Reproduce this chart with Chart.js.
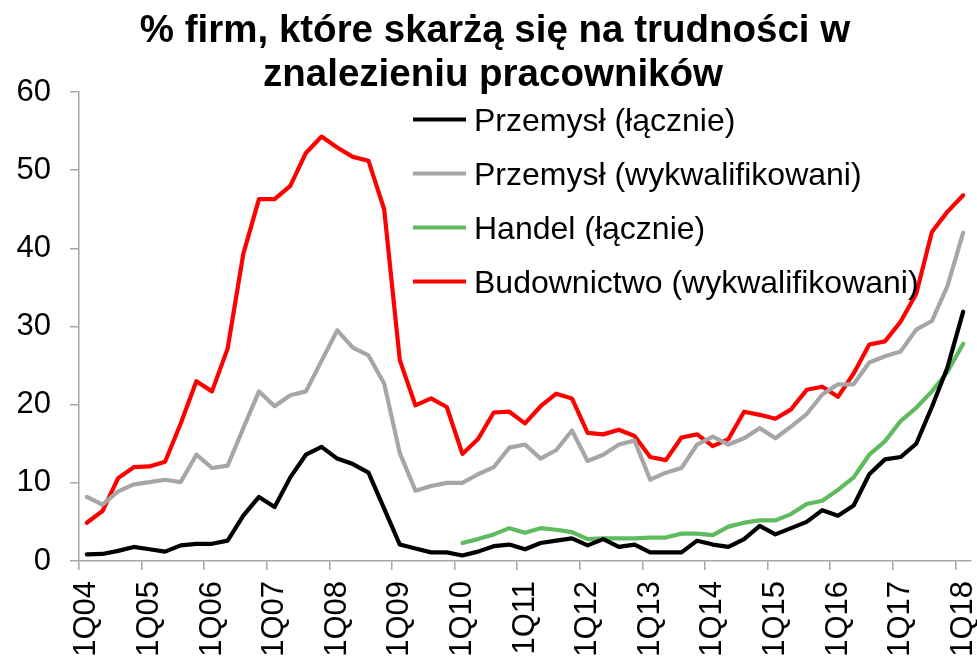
<!DOCTYPE html>
<html>
<head>
<meta charset="utf-8">
<script src="https://cdn.jsdelivr.net/npm/chart.js@4"></script>
<style>
  body { margin: 0; background: #fff; }
  #wrap { width: 977px; height: 656px; }
</style>
</head>
<body>
<div id="wrap"><canvas id="myChart" width="977" height="656"></canvas></div>
<script>
let quarters = [
  "1Q04", "2Q04", "3Q04", "4Q04", "1Q05", "2Q05", "3Q05", "4Q05",
  "1Q06", "2Q06", "3Q06", "4Q06", "1Q07", "2Q07", "3Q07", "4Q07",
  "1Q08", "2Q08", "3Q08", "4Q08", "1Q09", "2Q09", "3Q09", "4Q09",
  "1Q10", "2Q10", "3Q10", "4Q10", "1Q11", "2Q11", "3Q11", "4Q11",
  "1Q12", "2Q12", "3Q12", "4Q12", "1Q13", "2Q13", "3Q13", "4Q13",
  "1Q14", "2Q14", "3Q14", "4Q14", "1Q15", "2Q15", "3Q15", "4Q15",
  "1Q16", "2Q16", "3Q16", "4Q16", "1Q17", "2Q17", "3Q17", "4Q17",
  "1Q18"
];

let przemysl = [
  0.85, 0.9, 1.3, 1.8, 1.5, 1.2, 2.0, 2.2, 2.2, 2.6, 5.8, 8.2,
  6.9, 10.7, 13.6, 14.6, 13.1, 12.4, 11.3, 6.7, 2.1, 1.6, 1.1, 1.1,
  0.7, 1.2, 1.9, 2.1, 1.5, 2.3, 2.6, 2.9, 2.0, 2.8, 1.8, 2.1,
  1.1, 1.1, 1.1, 2.6, 2.1, 1.8, 2.8, 4.5, 3.4, 4.2, 5.0, 6.5,
  5.8, 7.1, 11.1, 13.0, 13.3, 15.0, 19.7, 24.8, 31.9
];

let przemyslWykw = [
  8.2, 7.2, 8.9, 9.8, 10.1, 10.4, 10.1, 13.6, 11.9, 12.2, 17.0, 21.7,
  19.8, 21.2, 21.7, 25.6, 29.5, 27.3, 26.3, 22.7, 13.8, 9.0, 9.6, 10.0,
  10.0, 11.1, 12.0, 14.5, 14.9, 13.1, 14.2, 16.7, 12.8, 13.6, 14.9, 15.4,
  10.4, 11.3, 11.9, 14.9, 15.9, 14.9, 15.7, 17.0, 15.7, 17.2, 18.8, 21.3,
  22.6, 22.6, 25.4, 26.2, 26.8, 29.6, 30.7, 35.2, 42.0
];

let handel = [
  null, null, null, null, null, null, null, null, null, null, null, null,
  null, null, null, null, null, null, null, null, null, null, null, null,
  2.3, 2.8, 3.4, 4.2, 3.6, 4.2, 4.0, 3.7, 2.8, 2.9, 2.9, 2.9,
  3.0, 3.0, 3.5, 3.5, 3.3, 4.4, 4.9, 5.2, 5.2, 6.0, 7.3, 7.7,
  9.1, 10.7, 13.6, 15.3, 17.9, 19.6, 21.7, 24.2, 27.8
];

let budownictwo = [
  4.9, 6.4, 10.6, 12.0, 12.1, 12.7, 17.6, 23.0, 21.7, 27.2, 39.3, 46.3,
  46.3, 48.0, 52.2, 54.3, 52.9, 51.7, 51.2, 45.0, 25.7, 19.9, 20.8, 19.7,
  13.7, 15.6, 19.0, 19.1, 17.6, 19.8, 21.4, 20.8, 16.4, 16.2, 16.8, 16.0,
  13.3, 12.9, 15.8, 16.2, 14.7, 15.6, 19.1, 18.7, 18.2, 19.4, 21.9, 22.3,
  21.0, 24.0, 27.7, 28.1, 30.6, 34.2, 42.1, 44.7, 46.8
];

let seriesNames = [
  "Przemysł (łącznie)",
  "Przemysł (wykwalifikowani)",
  "Handel (łącznie)",
  "Budownictwo (wykwalifikowani)"
];

let titleLines = ["% firm, które skarżą się na trudności w", "znalezieniu pracowników"];
let yTicks = [0, 10, 20, 30, 40, 50, 60];

const FONT = "'Liberation Sans', Arial, sans-serif";
const AXIS = "#A6A6A6";

// title + in-plot legend, drawn by hand like the Excel original
let decor = {
  id: "decor",
  afterDraw(chart) {
    let c = chart.ctx;
    c.save();
    c.fillStyle = "#000";
    c.textAlign = "center";
    c.textBaseline = "alphabetic";
    c.font = "bold 38.5px " + FONT;
    c.fillText(titleLines[0], 495, 42);
    c.fillText(titleLines[1], 493, 86);

    c.textAlign = "left";
    c.font = "32px " + FONT;
    chart.data.datasets.forEach((ds, i) => {
      let y = 119.5 + i * 54;
      c.strokeStyle = ds.borderColor;
      c.lineWidth = 4;
      c.beginPath();
      c.moveTo(413, y);
      c.lineTo(466, y);
      c.stroke();
      c.fillText(ds.label, 474, y + 11.5);
    });
    c.restore();
  }
};

let ctx = document.getElementById("myChart").getContext("2d");
let myChart = new Chart(ctx, {
  type: "line",
  data: {
    labels: quarters,
    datasets: [
      { label: seriesNames[0], data: przemysl, borderColor: "#000000" },
      { label: seriesNames[1], data: przemyslWykw, borderColor: "#A6A6A6" },
      { label: seriesNames[2], data: handel, borderColor: "#5EBB5E" },
      { label: seriesNames[3], data: budownictwo, borderColor: "#FF0000" }
    ]
  },
  options: {
    responsive: false,
    animation: false,
    layout: { padding: { top: 92, right: 6, left: 0, bottom: 0 } },
    elements: {
      line: { borderWidth: 4.2, tension: 0, borderJoinStyle: "round", borderCapStyle: "round" },
      point: { radius: 0, hoverRadius: 0 }
    },
    plugins: {
      legend: { display: false },
      title: { display: false },
      tooltip: { enabled: false }
    },
    scales: {
      x: {
        type: "category",
        offset: true,
        afterFit(scale) {
          scale.height = 95;
          scale.paddingLeft = 0;
          scale.paddingRight = 0;
        },
        border: { color: AXIS, width: 1.5 },
        grid: {
          offset: true,
          drawOnChartArea: false,
          drawTicks: true,
          tickLength: 9,
          lineWidth: 1.5,
          color: (c) => (c.index % 4 === 0 ? AXIS : "rgba(0,0,0,0)")
        },
        ticks: {
          autoSkip: false,
          maxRotation: 90,
          minRotation: 90,
          padding: 11,
          color: "#000",
          font: { family: FONT, size: 31 },
          callback: function (v, i) {
            return i % 4 === 0 ? this.getLabelForValue(v) : "";
          }
        }
      },
      y: {
        min: yTicks[0],
        max: yTicks[yTicks.length - 1],
        afterFit(scale) { scale.width = 79; },
        afterBuildTicks(scale) { scale.ticks = yTicks.map((v) => ({ value: v })); },
        border: { color: AXIS, width: 1.5 },
        grid: { drawOnChartArea: false, drawTicks: true, tickLength: 9, color: AXIS, lineWidth: 1.5 },
        ticks: {
          padding: 19,
          color: "#000",
          font: { family: FONT, size: 31 }
        }
      }
    }
  },
  plugins: [decor]
});
</script>
</body>
</html>
